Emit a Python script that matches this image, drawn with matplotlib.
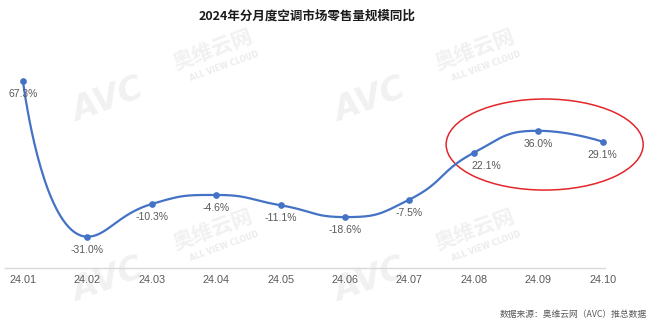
import numpy as np
import matplotlib
matplotlib.use('Agg')
import matplotlib.pyplot as plt
from matplotlib.patches import Ellipse

plt.rcParams['font.family'] = ['Liberation Sans', 'Noto Sans CJK SC']

# data
months = ['24.01', '24.02', '24.03', '24.04', '24.05', '24.06', '24.07', '24.08', '24.09', '24.10']
yoy = [67.3, -31.0, -10.3, -4.6, -11.1, -18.6, -7.5, 22.1, 36.0, 29.1]
title = '2024年分月度空调市场零售量规模同比'
source = '数据来源：奥维云网（AVC）推总数据'


def smooth_curve(xs, ys, kx, ky, smooth=0.5, n=40):
    # bezier smoothing with extreme constraint (like echarts smooth line)
    px = np.asarray(xs, float) * kx
    py = np.asarray(ys, float) * ky
    m = len(px)
    cin = np.column_stack([px, py]).copy()
    cout = cin.copy()
    for i in range(1, m - 1):
        x, y = px[i], py[i]
        x0, y0 = px[i - 1], py[i - 1]
        x2, y2 = px[i + 1], py[i + 1]
        vx, vy = x2 - x0, y2 - y0
        lp = np.hypot(x - x0, y - y0)
        ln = np.hypot(x2 - x, y2 - y)
        r = ln / (ln + lp)
        nx = x + vx * smooth * r
        ny = y + vy * smooth * r
        nx = max(min(nx, max(x2, x)), min(x2, x))
        ny = max(min(ny, max(y2, y)), min(y2, y))
        vx, vy = nx - x, ny - y
        cx = x - vx * lp / ln
        cy = y - vy * lp / ln
        cx = max(min(cx, max(x0, x)), min(x0, x))
        cy = max(min(cy, max(y0, y)), min(y0, y))
        vx, vy = x - cx, y - cy
        nx = x + vx * ln / lp
        ny = y + vy * ln / lp
        cin[i] = (cx, cy)
        cout[i] = (nx, ny)
    t = np.linspace(0, 1, n)[:, None]
    segs = []
    for i in range(m - 1):
        p0 = np.array([px[i], py[i]])
        p3 = np.array([px[i + 1], py[i + 1]])
        b = ((1 - t) ** 3) * p0 + 3 * ((1 - t) ** 2) * t * cout[i] \
            + 3 * (1 - t) * t ** 2 * cin[i + 1] + t ** 3 * p3
        segs.append(b if i == 0 else b[1:])
    pts = np.vstack(segs)
    return pts[:, 0] / kx, pts[:, 1] / ky


fig = plt.figure(figsize=(6.6, 3.25), dpi=100)
W, H = 660, 325

# watermark
wm_col = '#f1f1f1'
for dx, dy in [(0, 0), (262, 0), (0, 180), (262, 180)]:
    fig.text((108 + dx) / W, 1 - (100 + dy) / H, 'AVC', fontsize=24, fontweight='bold',
             style='italic', color=wm_col, rotation=20, ha='center', va='center',
             family='DejaVu Sans', zorder=0)
    fig.text((213 + dx) / W, 1 - (50 + dy) / H, '奥维云网', fontsize=15, fontweight='bold',
             color=wm_col, rotation=20, ha='center', va='center',
             family='Noto Sans CJK SC', zorder=0)
    fig.text((224 + dx) / W, 1 - (66 + dy) / H, 'ALL VIEW CLOUD', fontsize=5.5, fontweight='bold',
             color='#ececec', rotation=20, ha='center', va='center',
             family='DejaVu Sans', zorder=0)

ax = fig.add_axes([5 / W, 57 / H, 600 / W, 218 / H])
ax.set_zorder(2)
ax.patch.set_alpha(0)

x = np.arange(len(months))
kx, ky = 64.4, 1.581
sx, sy = smooth_curve(x, yoy, kx, ky)
ax.plot(sx, sy, color='#4472C4', lw=1.6, clip_on=False, solid_capstyle='round')
ax.plot(x, yoy, 'o', color='#4472C4', ms=3.8, clip_on=False)

for i, (xi, v) in enumerate(zip(x, yoy)):
    dx = 9 if i == 7 else 0  # label pushed off the rising line
    ax.annotate(f'{v:.1f}%', (xi, v), xytext=(dx, -9.5), textcoords='offset points',
                ha='center', va='center', fontsize=7.5, color='#595959')

ax.add_patch(Ellipse((8.10, 27.3), 3.06, 57.6, fill=False, edgecolor='#E3262B',
                     lw=1.1, clip_on=False))

ax.set_xlim(-0.2795, 9.037)
ax.set_ylim(-50.8, 87.1)
ax.set_xticks(x)
ax.set_xticklabels(months, fontsize=7.8, color='#595959')
ax.tick_params(axis='x', length=0, pad=5)
ax.set_yticks([])
for s in ['top', 'right', 'left']:
    ax.spines[s].set_visible(False)
ax.spines['bottom'].set_color('#d9d9d9')
ax.spines['bottom'].set_linewidth(1)

fig.text(307.5 / W, 1 - 16 / H, title, ha='center', va='center', fontsize=9,
         fontweight='bold', family='Noto Sans CJK SC', color='#1a1a1a')
fig.text(647 / W, 1 - 314 / H, source, ha='right', va='center', fontsize=6.3,
         family='Noto Sans CJK SC', color='#595959')

fig.savefig('out.png', dpi=100)
